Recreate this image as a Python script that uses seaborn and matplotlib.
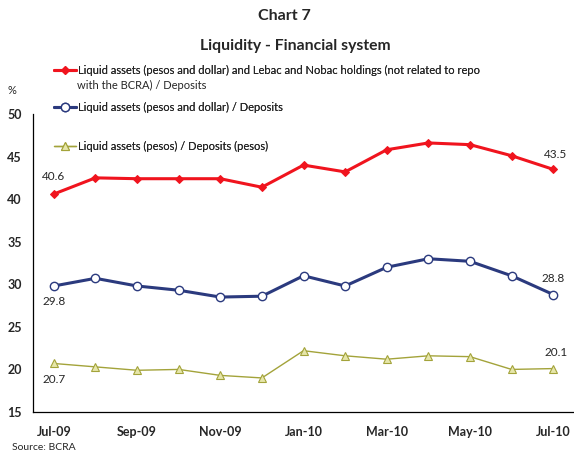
import matplotlib
matplotlib.use("Agg")
import matplotlib.pyplot as plt
import seaborn as sns
import numpy as np
import pandas as pd
from matplotlib.lines import Line2D

months = ["Jul-09", "Aug-09", "Sep-09", "Oct-09", "Nov-09", "Dec-09", "Jan-10",
          "Feb-10", "Mar-10", "Apr-10", "May-10", "Jun-10", "Jul-10"]
liquid_lebac = [40.6, 42.5, 42.4, 42.4, 42.4, 41.4, 44.0, 43.2, 45.8, 46.6, 46.4, 45.1, 43.5]
liquid_total = [29.8, 30.7, 29.8, 29.3, 28.5, 28.6, 31.0, 29.8, 32.0, 33.0, 32.7, 31.0, 28.8]
liquid_pesos = [20.7, 20.3, 19.9, 20.0, 19.3, 19.0, 22.2, 21.6, 21.2, 21.6, 21.5, 20.0, 20.1]
tick_labels = ["Jul-09", "Sep-09", "Nov-09", "Jan-10", "Mar-10", "May-10", "Jul-10"]
yticks = [15, 20, 25, 30, 35, 40, 45, 50]

labels = ["Liquid assets (pesos and dollar) and Lebac and Nobac holdings (not related to repo",
          "Liquid assets (pesos and dollar) / Deposits",
          "Liquid assets (pesos) / Deposits (pesos)"]
label_cont = "with the BCRA) / Deposits"

sns.set_style("white")
plt.rcParams['font.family'] = ['Lato', 'DejaVu Sans']

fig = plt.figure(figsize=(5.74, 4.54), dpi=100)
ax = fig.add_axes([33/574, 1-412/454, 1-33/574, (412-114)/454])

x = np.arange(len(months))
df = pd.DataFrame({"x": x, "red": liquid_lebac, "blue": liquid_total, "green": liquid_pesos})

red = "#f0141e"
blue = "#2b3a7e"
olive = "#a3a33a"

sns.lineplot(data=df, x="x", y="red", ax=ax, color=red, lw=2.2, marker="D",
             markersize=4.2, markerfacecolor=red, markeredgecolor=red)
sns.lineplot(data=df, x="x", y="blue", ax=ax, color=blue, lw=2.2, marker="o",
             markersize=6, markerfacecolor="white", markeredgecolor=blue, markeredgewidth=1.0)
sns.lineplot(data=df, x="x", y="green", ax=ax, color=olive, lw=1.0, marker="^",
             markersize=5.5, markerfacecolor="#e6e6aa", markeredgecolor=olive, markeredgewidth=0.8)

ax.set_xlim(-0.5, 12.5)
ax.set_ylim(15, 50)
ax.set_yticks(yticks)
ax.set_yticklabels([str(v) for v in yticks], fontweight="bold", fontsize=9)
ax.set_xticks(np.arange(0, 13, 2))
ax.set_xticklabels(tick_labels, fontweight="bold", fontsize=9)
ax.set_xticks(np.arange(-0.5, 12.6, 2), minor=True)
ax.tick_params(axis="x", which="major", length=0, pad=10)
ax.tick_params(axis="x", which="minor", direction="in", length=4, color="black", width=0.8)
ax.tick_params(axis="y", direction="in", length=3, color="black", width=0.8, pad=8)
ax.set_xlabel("")
ax.set_ylabel("")
for s in ["top", "right"]:
    ax.spines[s].set_visible(False)
for s in ["left", "bottom"]:
    ax.spines[s].set_color("black")
    ax.spines[s].set_linewidth(0.9)
ax.grid(False)

# data labels
ax.annotate(f"{liquid_lebac[0]:.1f}", (x[0], liquid_lebac[0]), xytext=(0, 10), textcoords="offset points", ha="center", fontsize=8.5)
ax.annotate(f"{liquid_total[0]:.1f}", (x[0], liquid_total[0]), xytext=(0, -14), textcoords="offset points", ha="center", fontsize=8.5)
ax.annotate(f"{liquid_pesos[0]:.1f}", (x[0], liquid_pesos[0]), xytext=(0, -14), textcoords="offset points", ha="center", fontsize=8.5)
ax.annotate(f"{liquid_lebac[-1]:.1f}", (x[-1], liquid_lebac[-1]), xytext=(2, 8), textcoords="offset points", ha="center", fontsize=8.5)
ax.annotate(f"{liquid_total[-1]:.1f}", (x[-1], liquid_total[-1]), xytext=(0, 9), textcoords="offset points", ha="center", fontsize=8.5)
ax.annotate(f"{liquid_pesos[-1]:.1f}", (x[-1], liquid_pesos[-1]), xytext=(2, 9), textcoords="offset points", ha="center", fontsize=8.5)

lines = ax.get_lines()
ypos = [70/454, 107/454, 146/454]
for ln, lab, yp in zip(lines[:3], labels, ypos):
    h = Line2D([], [], color=ln.get_color(), lw=ln.get_linewidth(), marker=ln.get_marker(),
               markersize=ln.get_markersize(), markerfacecolor=ln.get_markerfacecolor(),
               markeredgecolor=ln.get_markeredgecolor(), markeredgewidth=ln.get_markeredgewidth())
    leg = fig.legend([h], [lab], loc="center left", bbox_to_anchor=(54/574, 1-yp), frameon=False,
                     fontsize=8, handlelength=2.0, handletextpad=0.2, borderpad=0, borderaxespad=0)
    fig.add_artist(leg)
fig.text(77/574, 1-85/454, label_cont, ha="left", va="center", fontsize=8)

fig.text(284/574, 1-16/454, "Chart 7", ha="center", va="center", fontsize=11.5, fontweight="bold")
fig.text(295/574, 1-46/454, "Liquidity - Financial system", ha="center", va="center", fontsize=11.3, fontweight="bold")
fig.text(12/574, 1-91/454, "%", ha="center", va="center", fontsize=8)
fig.text(12/574, 1-448/454, "Source: BCRA", ha="left", va="center", fontsize=7.5)

fig.savefig("out.png", dpi=100)
